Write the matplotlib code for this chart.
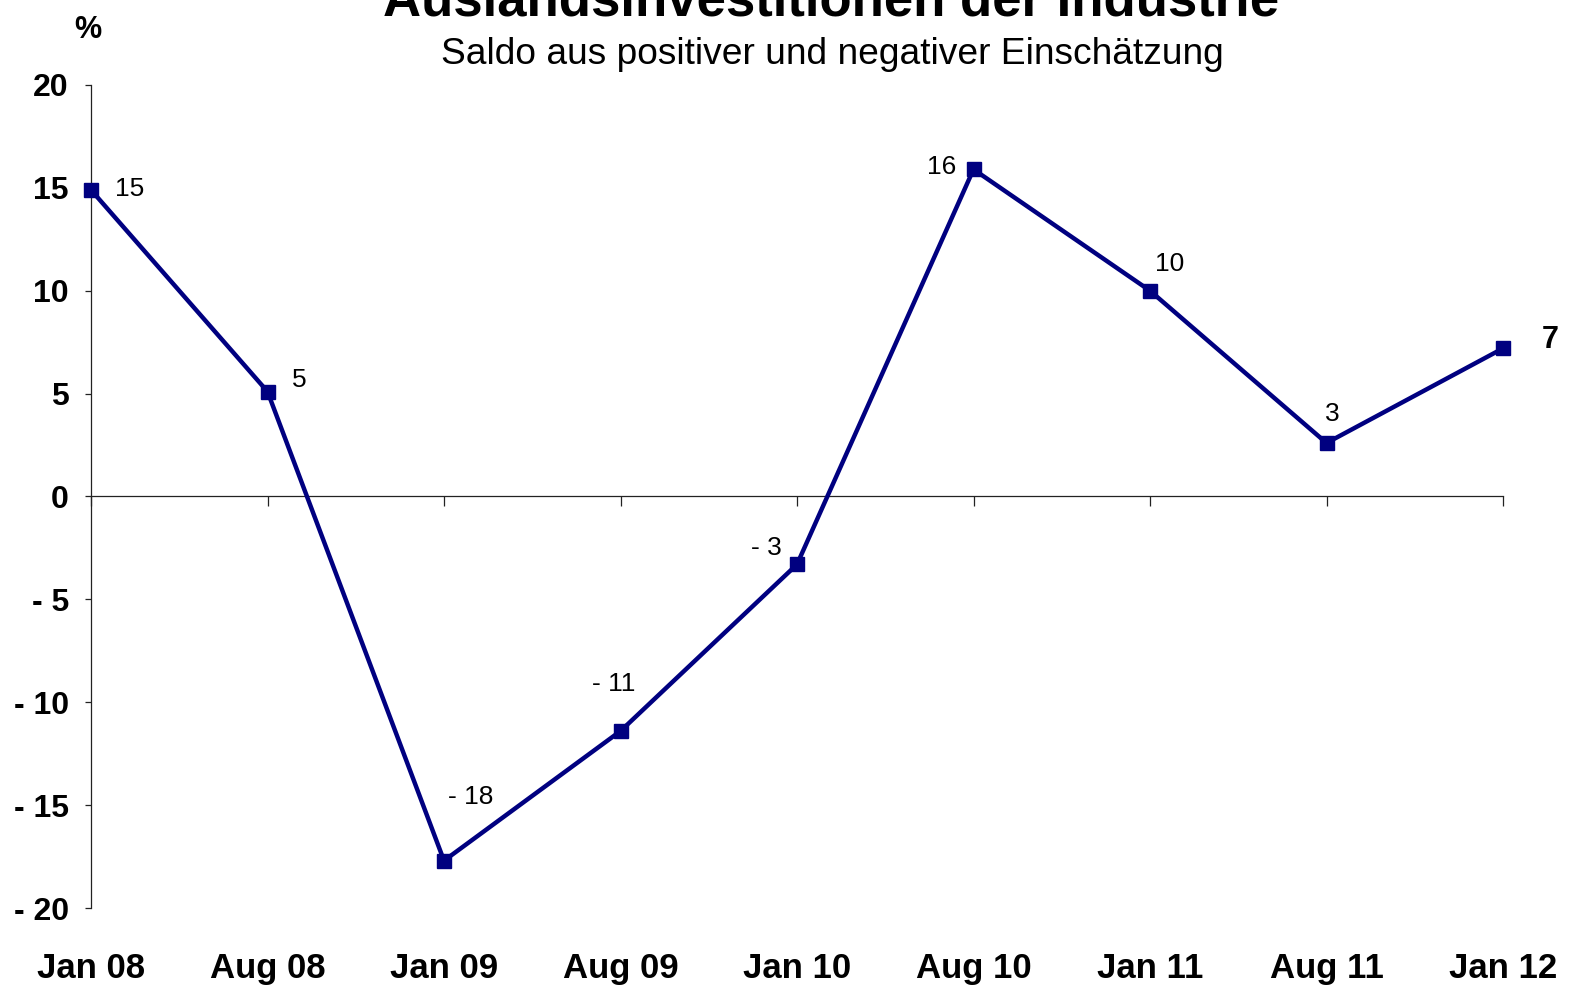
import matplotlib
matplotlib.use("Agg")
import matplotlib.pyplot as plt
from matplotlib.ticker import FuncFormatter
import matplotlib.transforms as mtransforms

plt.rcParams['font.family'] = ['Liberation Sans', 'DejaVu Sans']

# Daten (Saldo in %)
dates = ["Jan 08", "Aug 08", "Jan 09", "Aug 09", "Jan 10",
         "Aug 10", "Jan 11", "Aug 11", "Jan 12"]
saldo = [14.9, 5.1, -17.7, -11.4, -3.3, 15.9, 10.0, 2.6, 7.2]
yticks = [20, 15, 10, 5, 0, -5, -10, -15, -20]

# Label-Versatz in Punkten (Stil)
label_offsets = [(28, 1), (23, 8), (19, 46), (-5, 34), (-22, 12),
                 (-23, 2), (14, 19), (4, 21), (34, 6)]

navy = "#000080"


def fmt_val(v):
    v = int(round(v))
    return f"- {abs(v)}" if v < 0 else f"{v}"


fig = plt.figure(figsize=(15.72, 9.86), dpi=100)
ax = fig.add_axes([91 / 1572, 1 - 908 / 986, (1503 - 91) / 1572, (908 - 85) / 986])

x = list(range(len(dates)))
ax.plot(x, saldo, color=navy, lw=3.2, marker="s", ms=9.5,
        markerfacecolor=navy, markeredgecolor=navy, clip_on=False, zorder=3)

ax.set_xlim(0, len(dates) - 1)
ax.set_ylim(-20, 20)

# Achsen
for s in ["top", "right"]:
    ax.spines[s].set_visible(False)
ax.spines["bottom"].set_position(("data", 0))
ax.spines["left"].set_linewidth(0.9)
ax.spines["bottom"].set_linewidth(0.9)
ax.spines["left"].set_color("#222222")
ax.spines["bottom"].set_color("#222222")

ax.set_xticks(x)
ax.set_xticklabels([])
ax.tick_params(axis="x", direction="out", length=7, width=0.9, color="#222222")
ax.set_yticks(yticks)
ax.yaxis.set_major_formatter(FuncFormatter(lambda v, p: fmt_val(v)))
ax.tick_params(axis="y", direction="out", length=4, width=0.9, color="#222222",
               labelsize=23, pad=12)
for lab in ax.get_yticklabels():
    lab.set_fontweight("bold")

# x-Beschriftung unten
trans = mtransforms.blended_transform_factory(ax.transData, ax.transAxes)
for xi, d in zip(x, dates):
    ax.text(xi, -0.073, d, transform=trans, ha="center", va="center",
            fontsize=25, fontweight="bold")

# Datenbeschriftungen
for i, (xi, v) in enumerate(zip(x, saldo)):
    last = i == len(saldo) - 1
    ax.annotate(fmt_val(v), (xi, v), xytext=label_offsets[i],
                textcoords="offset points", ha="center", va="center",
                fontsize=22 if last else 19,
                fontweight="bold" if last else "normal", annotation_clip=False)

fig.text(88 / 1572, 1 - 30 / 986, "%", ha="center", va="center",
         fontsize=22, fontweight="bold")
fig.text(831 / 1572, 1 - 16 / 986, "Auslandsinvestitionen der Industrie",
         ha="center", va="baseline", fontsize=38, fontweight="bold")
fig.text(832 / 1572, 1 - 54 / 986, "Saldo aus positiver und negativer Einschätzung",
         ha="center", va="center", fontsize=26.7)

fig.savefig("out.png", dpi=100)
